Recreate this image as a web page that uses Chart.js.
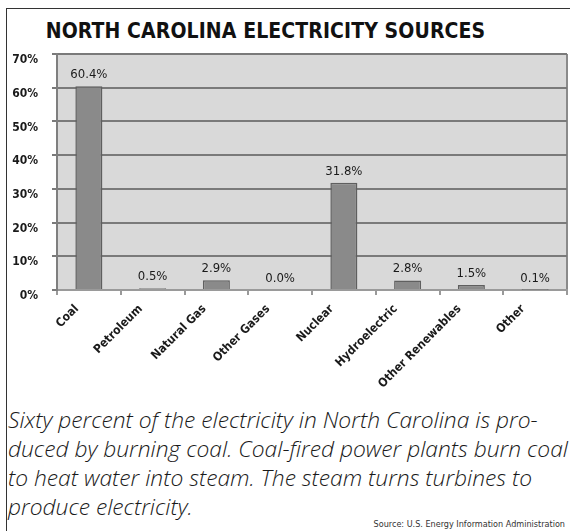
<!DOCTYPE html>
<html>
<head>
<meta charset="utf-8">
<script src="https://cdn.jsdelivr.net/npm/chart.js@4.4.1/dist/chart.umd.min.js"></script>
<style>
  html, body { margin: 0; padding: 0; background: #fff; width: 570px; height: 531px; overflow: hidden; }
  #frame { position: absolute; left: 6px; top: 8px; width: 570px; height: 530px; border-left: 1.5px solid #333; border-top: 1.5px solid #333; }
  #title { position: absolute; left: 0; width: 531px; top: 19px; text-align: center; font-family: "DejaVu Sans Condensed", "DejaVu Sans", sans-serif; font-weight: bold; font-size: 21px; color: #111; letter-spacing: 0.1px; }
  #chart { position: absolute; left: 0; top: 0; }
  #caption { position: absolute; left: 8px; top: 405px; width: 562px; font-family: "Open Sans", sans-serif; font-style: italic; font-weight: 300; font-size: 22.8px; line-height: 29px; color: #1a1a1a; white-space: nowrap; }
  #source { position: absolute; right: 5px; top: 519px; font-family: "DejaVu Sans Condensed", "DejaVu Sans", sans-serif; font-size: 9px; color: #333; }
</style>
</head>
<body>
<div id="frame"></div>
<div id="title">NORTH CAROLINA ELECTRICITY SOURCES</div>
<canvas id="chart" width="570" height="400" style="width:570px;height:400px"></canvas>
<div id="caption">Sixty percent of the electricity in North Carolina is pro-<br>duced by burning coal. Coal-fired power plants burn coal<br>to heat water into steam. The steam turns turbines to<br>produce electricity.</div>
<div id="source">Source: U.S. Energy Information Administration</div>
<script>
const categories = ["Coal", "Petroleum", "Natural Gas", "Other Gases", "Nuclear", "Hydroelectric", "Other Renewables", "Other"];
const shares = [60.4, 0.5, 2.9, 0.0, 31.8, 2.8, 1.5, 0.1];
const yTicks = [0, 10, 20, 30, 40, 50, 60, 70];

const FONT = '"DejaVu Sans Condensed", "DejaVu Sans", sans-serif';

const plotBg = {
  id: 'plotBg',
  beforeDraw(chart) {
    const {ctx, chartArea: a} = chart;
    ctx.save();
    ctx.fillStyle = '#d9d9d9';
    ctx.fillRect(a.left, a.top, a.right - a.left, a.bottom - a.top);
    ctx.strokeStyle = '#8a8a8a';
    ctx.lineWidth = 2;
    ctx.beginPath();
    ctx.moveTo(a.right, a.top);
    ctx.lineTo(a.right, a.bottom);
    ctx.stroke();
    ctx.restore();
  }
};

const valueLabels = {
  id: 'valueLabels',
  afterDatasetsDraw(chart) {
    const {ctx} = chart;
    const meta = chart.getDatasetMeta(0);
    ctx.save();
    ctx.font = '13px ' + FONT;
    ctx.fillStyle = '#1a1a1a';
    ctx.textAlign = 'center';
    ctx.textBaseline = 'bottom';
    meta.data.forEach((bar, i) => {
      ctx.fillText(shares[i].toFixed(1) + '%', bar.x, bar.y - 5);
    });
    ctx.restore();
  }
};

new Chart(document.getElementById('chart'), {
  type: 'bar',
  data: {
    labels: categories,
    datasets: [{
      data: shares,
      backgroundColor: '#8a8a8a',
      borderColor: '#5f5f5f',
      borderWidth: 1.5,
      categoryPercentage: 0.8,
      barPercentage: 0.53
    }]
  },
  options: {
    responsive: false,
    animation: false,
    devicePixelRatio: 1,
    layout: { padding: { left: 12, right: 3, top: 54, bottom: 0 } },
    plugins: { legend: { display: false }, tooltip: { enabled: false } },
    scales: {
      x: {
        afterFit(scale) { scale.height = 110; },
        grid: { display: true, drawOnChartArea: false, drawTicks: true, tickLength: 5, color: '#9a9a9a', lineWidth: 2, offset: true },
        border: { display: true, color: '#9a9a9a', width: 2 },
        ticks: {
          minRotation: 45, maxRotation: 45, autoSkip: false,
          labelOffset: -12, padding: 7,
          color: '#1a1a1a',
          font: { family: FONT, size: 12, weight: 'bold' }
        }
      },
      y: {
        min: 0, max: 70,
        afterFit(scale) { scale.width = 45; },
        afterBuildTicks(scale) { scale.ticks = yTicks.map(v => ({ value: v })); },
        grid: { color: '#7a7a7a', lineWidth: 2, tickLength: 5, drawTicks: true },
        border: { display: true, color: '#7f7f7f', width: 2 },
        ticks: {
          padding: 14, labelOffset: 6,
          color: '#1a1a1a',
          font: { family: FONT, size: 12, weight: '600' },
          callback: (v) => v + '%'
        }
      }
    }
  },
  plugins: [plotBg, valueLabels]
});
</script>
</body>
</html>
